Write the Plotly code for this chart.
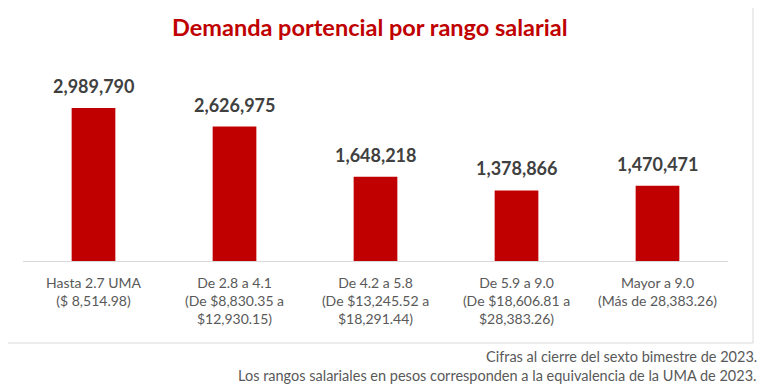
import plotly.graph_objects as go

categories = ["Hasta 2.7 UMA", "De 2.8 a 4.1", "De 4.2 a 5.8", "De 5.9 a 9.0", "Mayor a 9.0"]
tick_labels = [
    "Hasta 2.7 UMA<br>($ 8,514.98)",
    "De 2.8 a 4.1<br>(De $8,830.35 a<br>$12,930.15)",
    "De 4.2 a 5.8<br>(De $13,245.52 a<br>$18,291.44)",
    "De 5.9 a 9.0<br>(De $18,606.81 a<br>$28,383.26)",
    "Mayor a 9.0<br>(Más de 28,383.26)",
]
values = [2989790, 2626975, 1648218, 1378866, 1470471]

title_text = "Demanda portencial por rango salarial"
note1 = "Cifras al cierre del sexto bimestre de 2023."
note2 = "Los rangos salariales en pesos corresponden a la equivalencia de la UMA de 2023."

FONT = "Lato, Carlito, 'Open Sans', sans-serif"

fig = go.Figure(go.Bar(
    x=categories,
    y=values,
    marker=dict(color="#C00000", line=dict(width=0)),
    hoverinfo="skip",
))

# page body has an 8px default margin; compensate
OFF = 8
W, H = 768 - OFF, 392 - OFF
L = 23 - OFF
R = W - (728 - OFF)
T = 60 - OFF
B = H - (261 - OFF)
pw, ph = W - L - R, H - T - B

def px(x):
    return (x - OFF - L) / pw

def py(y):
    return (H - B - (y - OFF)) / ph

label_annots = [
    dict(text=f"<b>{v:,}</b>", x=c, y=v, xref="x", yref="y",
         xanchor="center", yanchor="bottom", yshift=9, showarrow=False,
         font=dict(family=FONT, size=18, color="#404040"))
    for c, v in zip(categories, values)
]

fig.update_layout(
    width=W, height=H,
    margin=dict(l=L, r=R, t=T, b=B, autoexpand=False),
    paper_bgcolor="white", plot_bgcolor="white",
    bargap=0.69,
    showlegend=False,
    xaxis=dict(
        tickmode="array", tickvals=categories, ticktext=tick_labels,
        tickfont=dict(family=FONT, size=14, color="#595959"),
        ticklabelstandoff=9,
        showline=True, linecolor="#D9D9D9", linewidth=1,
        showgrid=False, ticks="", fixedrange=True,
    ),
    yaxis=dict(
        range=[0, 3927000], visible=False, showgrid=False, fixedrange=True,
    ),
    shapes=[dict(
        type="rect", xref="paper", yref="paper",
        x0=px(-5), x1=px(753), y0=py(343), y1=py(7),
        line=dict(color="#D9D9D9", width=1), fillcolor="rgba(0,0,0,0)", layer="below",
    )],
    annotations=label_annots + [
        dict(text=f"<b>{title_text}</b>", xref="paper", yref="paper",
             x=px(370), y=py(27), xanchor="center", yanchor="middle", showarrow=False,
             font=dict(family=FONT, size=23.5, color="#C00000")),
        dict(text=note1, xref="paper", yref="paper",
             x=px(759), y=py(356), xanchor="right", yanchor="middle", showarrow=False,
             font=dict(family=FONT, size=14.5, color="#595959")),
        dict(text=note2, xref="paper", yref="paper",
             x=px(759), y=py(375), xanchor="right", yanchor="middle", showarrow=False,
             font=dict(family=FONT, size=14.5, color="#595959")),
    ],
)

fig.write_html("out.html")
